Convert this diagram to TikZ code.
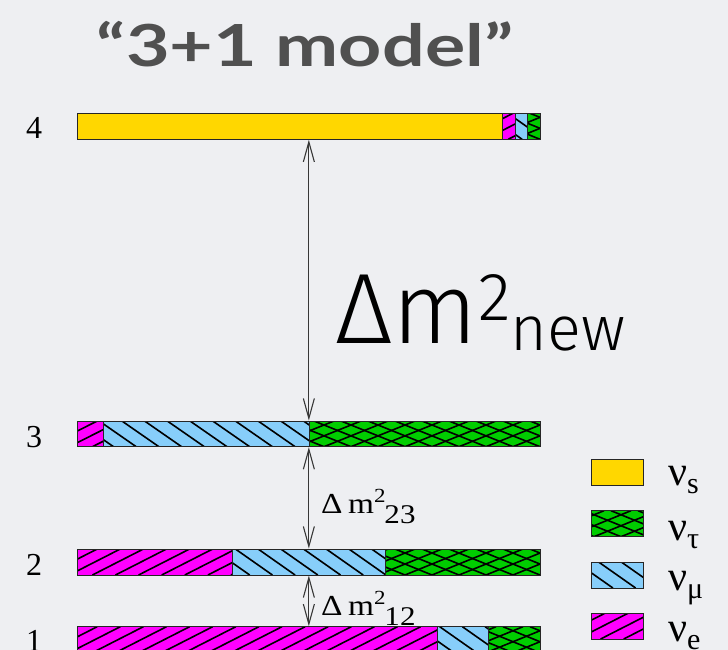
\documentclass[tikz,border=0pt]{standalone}
\usepackage{fontspec}
\usepackage{graphicx}
\setmainfont{Liberation Serif}
\newfontfamily\titlefont{Lato}
\newfontfamily\lightfont{Fira Sans Light}
\usetikzlibrary{arrows.meta}
\definecolor{bgc}{RGB}{238,239,242}
\definecolor{yellowc}{RGB}{255,215,0}
\definecolor{magentac}{RGB}{255,0,255}
\definecolor{bluec}{RGB}{135,206,250}
\definecolor{greenc}{RGB}{0,205,0}
\definecolor{titlegray}{RGB}{80,80,80}
\definecolor{arrowgray}{RGB}{55,55,55}
% hatch lines: x1,y1(top),x2,y2(bottom), top-offset dx, horizontal spacing
\newcommand\hatchlines[6]{%
  \begin{scope}
    \clip (#1,#2) rectangle (#3,#4);
    \foreach \k in {-5,...,34} {\draw[hatchline] ({\k*#6},#4) -- ({\k*#6+#5},#2);}
  \end{scope}}
\newcommand\segS[4]{\fill[yellowc] (#1,#2) rectangle (#3,#4);\draw[segline] (#1,#2) rectangle (#3,#4);}
\newcommand\segE[4]{\fill[magentac] (#1,#2) rectangle (#3,#4);\hatchlines{#1}{#2}{#3}{#4}{51}{23.1}\draw[segline] (#1,#2) rectangle (#3,#4);}
\newcommand\segMu[4]{\fill[bluec] (#1,#2) rectangle (#3,#4);\hatchlines{#1}{#2}{#3}{#4}{-37}{22.7}\draw[segline] (#1,#2) rectangle (#3,#4);}
\newcommand\segTau[4]{\fill[greenc] (#1,#2) rectangle (#3,#4);\hatchlines{#1}{#2}{#3}{#4}{64}{27}\hatchlines{#1}{#2}{#3}{#4}{-64}{27}\draw[segline] (#1,#2) rectangle (#3,#4);}
\begin{document}
\begin{tikzpicture}[x=1pt,y=-1pt,
  hatchline/.style={draw=black, line width=1.6pt},
  segline/.style={draw=black!85, line width=0.9pt},
  barframe/.style={draw=black!85, line width=1pt, minimum width=463.7pt, minimum height=26pt, inner sep=0pt},
  legbox/.style={draw=black!85, line width=1pt, minimum width=51.3pt, minimum height=26pt, inner sep=0pt},
  dm/.style={draw=arrowgray, line width=1.1pt, {Straight Barb[length=20pt,width=11pt]}-{Straight Barb[length=20pt,width=11pt]}},
  rowlab/.style={anchor=base west, inner sep=0pt, font=\fontsize{32}{32}\selectfont},
  leglab/.style={anchor=base west, inner sep=0pt, font=\fontsize{42}{42}\selectfont}
]
\useasboundingbox (0,0) rectangle (728,650);
\fill[bgc] (0,0) rectangle (728,650);

% title
\node[anchor=base, inner sep=0pt, text=titlegray] (title) at (305,67)
  {\scalebox{1.3}[1]{\titlefont\bfseries\fontsize{58}{58}\selectfont “3+1 model”}};

% bar 4
\segS{77}{113.3}{502}{139.3}
\segE{502}{113.3}{515}{139.3}
\segMu{515}{113.3}{527.7}{139.3}
\segTau{527.7}{113.3}{540.7}{139.3}
\node[barframe] (bar4) at (308.85,126.3) {};

% bar 3
\segE{77}{421}{103.7}{446.7}
\segMu{103.7}{421}{309.3}{446.7}
\segTau{309.3}{421}{540.7}{446.7}
\node[barframe, minimum height=25.7pt] (bar3) at (308.85,433.85) {};

% bar 2
\segE{77}{549}{232}{575}
\segMu{232}{549}{385.7}{575}
\segTau{385.7}{549}{540.7}{575}
\node[barframe] (bar2) at (308.85,562) {};

% bar 1
\segE{77}{626.7}{437.3}{652.7}
\segMu{437.3}{626.7}{488.7}{652.7}
\segTau{488.7}{626.7}{540.7}{652.7}
\node[barframe] (bar1) at (308.85,639.7) {};

% row labels
\node[rowlab] (l4) at (26,138.3) {4};
\node[rowlab] (l3) at (26,447) {3};
\node[rowlab] (l2) at (26,575) {2};
\node[rowlab] (l1) at (26,651) {1};

% arrows
\draw[dm] (bar4.south) -- (bar3.north);
\draw[dm] (bar3.south) -- (bar2.north);
\draw[dm] (bar2.south) -- (bar1.north);

% mass splitting labels
\node[anchor=base west, inner sep=0pt] (dmnew) at (335,343)
  {\lightfont\fontsize{100}{100}\selectfont Δm\raisebox{23pt}{\fontsize{68}{68}\selectfont 2}\raisebox{-7pt}{\fontsize{63}{63}\selectfont new}};
\node[anchor=base west, inner sep=0pt] (d23) at (321,513)
  {\scalebox{1.15}[1]{\fontsize{29}{29}\selectfont Δ\,m\raisebox{11pt}{\fontsize{20}{20}\selectfont 2}\kern-1pt\raisebox{-10pt}{\fontsize{27}{27}\selectfont 23}}};
\node[anchor=base west, inner sep=0pt] (d12) at (321,615)
  {\scalebox{1.15}[1]{\fontsize{29}{29}\selectfont Δ\,m\raisebox{11pt}{\fontsize{20}{20}\selectfont 2}\kern-1pt\raisebox{-10pt}{\fontsize{27}{27}\selectfont 12}}};

% legend
\segS{591.7}{459.5}{643}{485.5}
\node[legbox] (ks) at (617.35,472.5) {};
\segTau{591.7}{510.7}{643}{536.7}
\node[legbox] (ktau) at (617.35,523.7) {};
\segMu{591.7}{562}{643}{588}
\node[legbox] (kmu) at (617.35,575) {};
\segE{591.7}{613}{643}{639}
\node[legbox] (ke) at (617.35,626) {};
\node[leglab] (ts) at (668,485) {ν\raisebox{-8pt}{\fontsize{30}{30}\selectfont s}};
\node[leglab] (ttau) at (668,540) {ν\raisebox{-8pt}{\fontsize{30}{30}\selectfont τ}};
\node[leglab] (tmu) at (668,590) {ν\raisebox{-8pt}{\fontsize{30}{30}\selectfont μ}};
\node[leglab] (te) at (668,641.7) {ν\raisebox{-8pt}{\fontsize{30}{30}\selectfont e}};
\end{tikzpicture}
\end{document}
